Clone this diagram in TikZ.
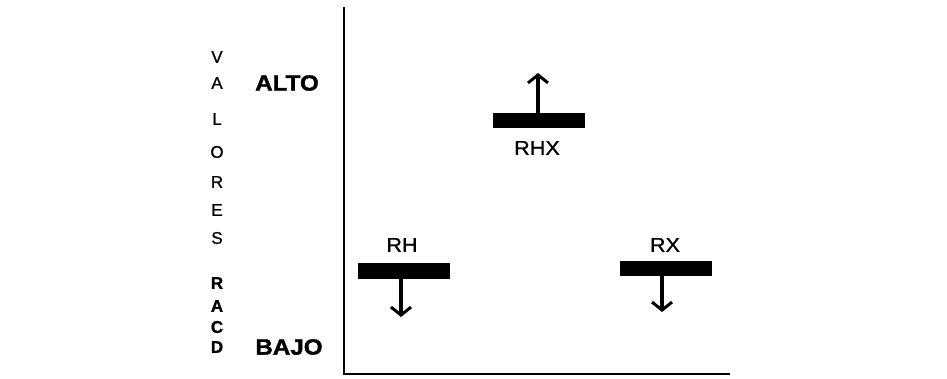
\documentclass[tikz,border=0pt]{standalone}
\usepackage{fontspec}
\setmainfont{Liberation Sans}
\newfontfamily\heavyfont[FakeBold=1.6]{Liberation Sans Bold}
\newfontfamily\semifont[FakeBold=1.2]{Liberation Sans Bold}
\newfontfamily\lightbold[FakeBold=0.8]{Liberation Sans}
\usetikzlibrary{arrows.meta}
\tikzset{
  bar/.style={fill=black, minimum width=92pt, minimum height=15pt, inner sep=0pt},
  vlet/.style={font=\lightbold\fontsize{17}{17}\selectfont, inner sep=0pt, anchor=center},
  vletb/.style={font=\semifont\fontsize{17}{17}\selectfont, inner sep=0pt, anchor=center},
  lvl/.style={font=\heavyfont\fontsize{22}{22}\selectfont, inner sep=0pt},
  lab/.style={font=\lightbold\fontsize{20}{20}\selectfont, inner sep=0pt},
  arr/.style={line width=3.5pt, -{Straight Barb[length=8pt,width=20pt,line width=3pt]}},
  axis/.style={line width=2pt}
}
\begin{document}
\begin{tikzpicture}[x=1pt,y=-1pt]
\useasboundingbox (0,0) rectangle (947,379);
% axes
\coordinate (top) at (344,7);
\coordinate (origin) at (344,374);
\coordinate (xend) at (730,374);
\draw[axis] (top) -- (origin) -- (xend);
% vertical text
\node[vlet] (l1) at (217,57) {V};
\node[vlet] (l2) at (217,83) {A};
\node[vlet] (l3) at (217,119) {L};
\node[vlet] (l4) at (217,152) {O};
\node[vlet] (l5) at (217,182) {R};
\node[vlet] (l6) at (217,210) {E};
\node[vlet] (l7) at (217,238) {S};
\node[vletb] (l8) at (217,283) {R};
\node[vletb] (l9) at (217,306) {A};
\node[vletb] (l10) at (217,327) {C};
\node[vletb] (l11) at (217,347) {D};
% level labels
\node[lvl] (alto) at (287,83) {\scalebox{1.1}[1]{ALTO}};
\node[lvl] (bajo) at (289,347) {\scalebox{1.1}[1]{BAJO}};
% bars
\node[bar] (rhx) at (539,121) {};
\node[bar] (rh) at (404,271) {};
\node[bar] (rx) at (666,268.5) {};
% labels
\node[lab] (rhxl) at (537,148) {\scalebox{1.08}[1]{RHX}};
\node[lab] (rhl) at (402,245) {\scalebox{1.08}[1]{RH}};
\node[lab] (rxl) at (665,245) {\scalebox{1.08}[1]{RX}};
% arrows
\coordinate (rhxtip) at (538,73);
\coordinate (rhtip) at (401,317);
\coordinate (rxtip) at (662,312);
\draw[arr] (rhx.north -| rhxtip) -- (rhxtip);
\draw[arr] (rh.south -| rhtip) -- (rhtip);
\draw[arr] (rx.south -| rxtip) -- (rxtip);
\end{tikzpicture}
\end{document}
